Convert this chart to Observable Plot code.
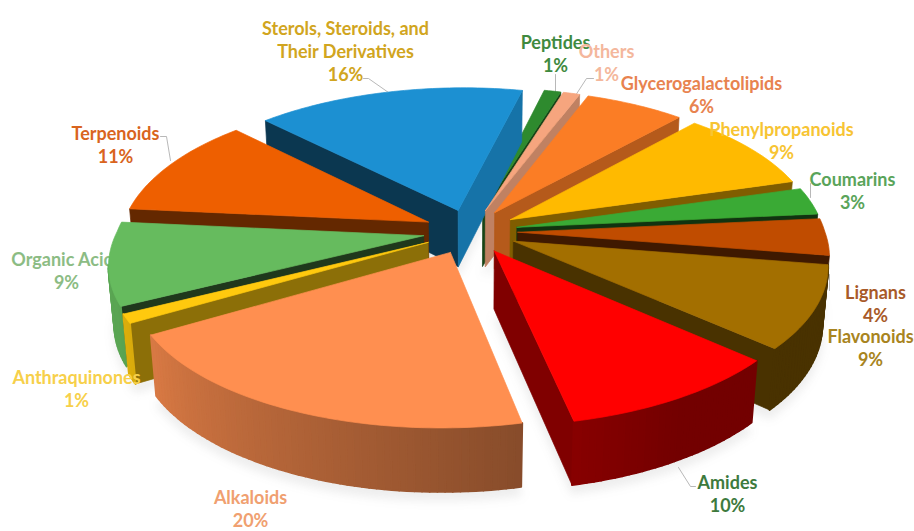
<!DOCTYPE html>
<html>
<head>
<meta charset="utf-8">
<style>html,body{margin:0;padding:0;background:#fff}</style>
<script src="https://cdn.jsdelivr.net/npm/d3@7"></script>
<script src="https://cdn.jsdelivr.net/npm/@observablehq/plot@0.6"></script>
</head>
<body>
<div id="chart"></div>
<script>
// Compound classes and their share of the total, clockwise from the Sterols slice.
const classNames = ["Sterols, Steroids, and\nTheir Derivatives","Peptides","Others","Glycerogalactolipids","Phenylpropanoids","Coumarins","Lignans","Flavonoids","Amides","Alkaloids","Anthraquinones","Organic Acids","Terpenoids"];
const shares = [16,1,1,6,9,3,4,9,10,20,1,9,11];

// Slice and label colours.
const sliceColors = ["#1c90d2","#2e8a2e","#f6a57e","#fb7d25","#ffba00","#3aaa35","#c04c00","#a36f00","#ff0000","#ff8f50","#ffc90e","#66bb5e","#ee5f00"];
const labelColors = ["#d1a520","#3f8a3f","#f4b79c","#e8834f","#f7c433","#5aa45a","#a85a28","#a88420","#3d7a3d","#f0a070","#f7d04a","#8cbc84","#d9641e"];
const startWallTones = [0.38,0.5,0.78,0.72,0.5,0.3,0.33,0.45,0.5,0.8,0.55,0.3,0.42];
const endWallTones = [0.8,0.5,0.78,0.72,0.5,0.3,0.33,0.45,0.5,0.8,0.55,0.3,0.42];

// Label anchors and leader lines, in the chart's pixel-like coordinates.
const labelX = [345,555,606,701,781,852,875,870,727,250,76,66,115];
const labelY = [50,52.5,62,93.5,139.5,189.5,302.5,346.5,493,508,388,270,144];
const leaders = [
  [[363,78],[368,78],[388,92]],
  [[555,74],[555,92]],
  [[593,78],[586,78],[575,95]],
  [[810,183],[810,197]],
  [[829,274],[829,290]],
  [[678,467],[690,486],[695,486]],
  [[160,136],[166,136],[170,160]]
];

// Pie geometry: a unit disc seen in perspective, with a slight skew of the view.
const cx = 470, cy = 231, radiusX = 307, radiusY = 145, depth = 58;
const perspective = 0.138, depthShrink = 0.016, explode = 0.154, firstAngle = -45;
const backShear = 8, frontShear = 6, bend = 8;

function project(u, v, z) {
  const w = 1 - perspective * v + depthShrink * z;
  const skew = v < 0
    ? -v * backShear * Math.max(0, u + 1) / 2
    : -v * frontShear + bend * u * v;
  return [cx + radiusX * u / w + skew, cy + (radiusY * v + depth * z) / w];
}
const rad = d => d * Math.PI / 180;
const dir = a => [Math.sin(rad(a)), -Math.cos(rad(a))];
const shade = (color, t) => {
  const c = d3.rgb(color);
  return d3.rgb(c.r * t, c.g * t, c.b * t).formatHex();
};
const rimTone = a => Math.max(0.45, Math.min(0.88, 0.52 + (a - 165) / 75 * 0.33));

// Build the slices from the shares.
let running = firstAngle;
const slices = shares.map((share, i) => {
  const a0 = running, a1 = running + share * 3.6;
  running = a1;
  const mid = (a0 + a1) / 2, d = dir(mid);
  return {i, a0, a1, mid, ox: explode * d[0], oy: explode * d[1]};
});

const faces = [];
const shadows = [];
let faceId = 0;
function addFace(points, color, width = 0.7, into = faces) {
  const id = faceId++;
  // Repeat the first vertex so the outline closes around the facet.
  for (const [x, y] of [...points, points[0]]) into.push({id, x, y, color, width});
}
const order = slices.slice().sort((a, b) => a.oy - b.oy);
for (const s of order) {
  const base = sliceColors[s.i];
  const steps = Math.max(2, Math.ceil((s.a1 - s.a0) / 1.2));
  const angles = d3.range(steps + 1).map(k => s.a0 + (s.a1 - s.a0) * k / steps);
  const rim = angles.map(a => { const d = dir(a); return [s.ox + d[0], s.oy + d[1]]; });
  const at = (p, z) => project(p[0], p[1], z);
  const apex = [s.ox, s.oy];
  addFace([at(apex, 1), ...rim.map(p => at(p, 1))], "#404040", 0.7, shadows);

  const first = rim[0], last = rim[rim.length - 1];
  if (at(first, 0)[0] < at(apex, 0)[0])
    addFace([at(apex, 0), at(first, 0), at(first, 1), at(apex, 1)], shade(base, startWallTones[s.i]));
  if (at(last, 0)[0] > at(apex, 0)[0])
    addFace([at(apex, 0), at(last, 0), at(last, 1), at(apex, 1)], shade(base, endWallTones[s.i]));
  // Rim facets get a wider outline so that adjacent ones overlap without seams.
  for (let k = 0; k < steps; k++) {
    const p = rim[k], q = rim[k + 1];
    if (at(q, 0)[0] < at(p, 0)[0]) {
      const tone = rimTone((angles[k] + angles[k + 1]) / 2);
      addFace([at(p, 0), at(q, 0), at(q, 1), at(p, 1)], shade(base, tone), 2);
    }
  }
  addFace([at(apex, 0), ...rim.map(p => at(p, 0))], base);
}

const labels = classNames.map((name, i) => ({
  text: `${name}\n${shares[i]}%`,
  name,
  x: labelX[i],
  y: labelY[i],
  color: labelColors[i]
}));
const leaderPoints = leaders.flatMap((pts, id) => pts.map(([x, y]) => ({id, x, y})));
const textOptions = {x: "x", y: "y", text: "text", fill: "color", fontFamily: "Lato", fontWeight: 700, fontSize: 18, lineHeight: 1.28, textAnchor: "middle", lineAnchor: "middle"};

const chart = Plot.plot({
  width: 914,
  height: 531,
  margin: 0,
  x: {domain: [0, 914], range: [0, 914], axis: null},
  y: {domain: [0, 531], range: [0, 531], axis: null},
  color: {type: "identity"},
  style: {background: "#fff"},
  marks: [
    Plot.line(shadows, {x: d => d.x, y: d => d.y + 8, z: "id", fill: "#555", stroke: "#555", fillOpacity: 0.1, strokeOpacity: 0.1, imageFilter: "blur(5px)"}),
    Plot.line(leaderPoints, {x: "x", y: "y", z: "id", stroke: "#a6a6a6", strokeWidth: 0.8}),
    // The Organic Acids label runs behind its own slice.
    Plot.text(labels.filter(d => d.name === "Organic Acids"), textOptions),
    Plot.line(faces, {x: "x", y: "y", z: "id", fill: "color", stroke: "color", strokeWidth: "width", strokeLinejoin: "round"}),
    Plot.text(labels.filter(d => d.name !== "Organic Acids"), textOptions)
  ]
});
document.getElementById("chart").appendChild(chart);
</script>
</body>
</html>
